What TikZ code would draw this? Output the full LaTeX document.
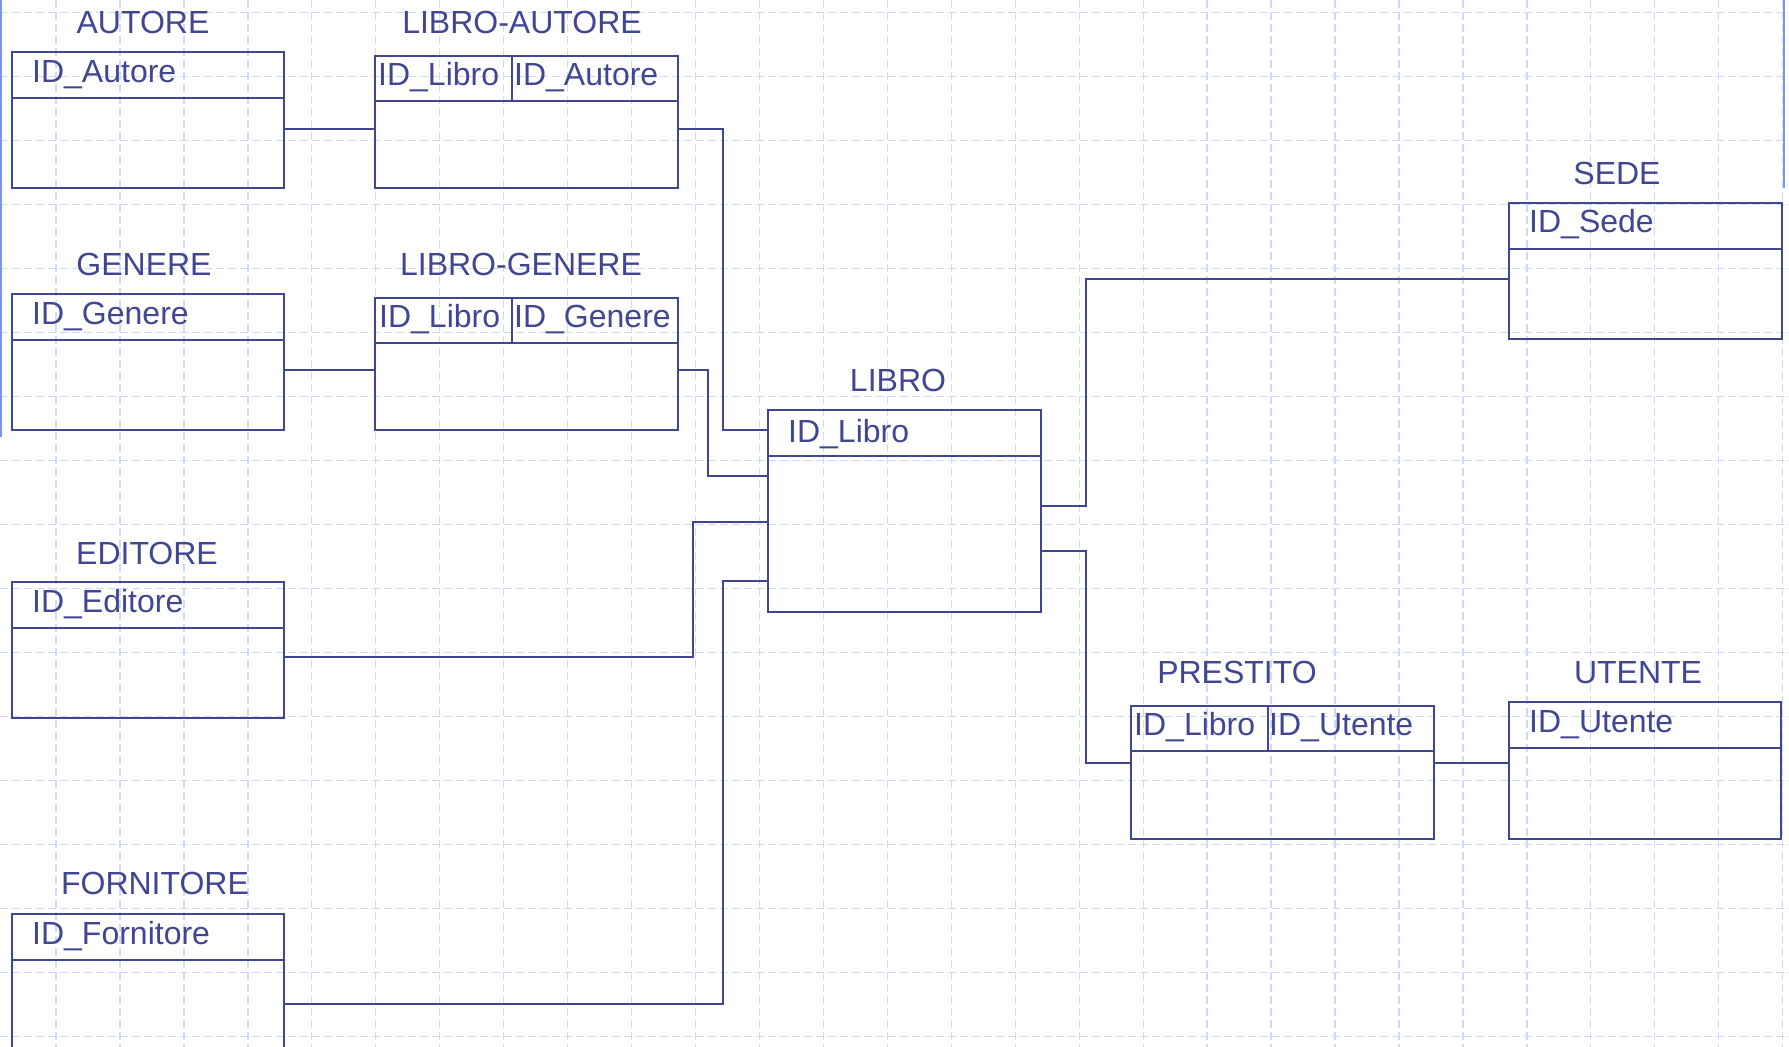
\documentclass[tikz,border=0pt]{standalone}
\usepackage{fontspec}
\setmainfont{Liberation Sans}
\usetikzlibrary{calc}
\definecolor{lc}{RGB}{64,70,145}
\definecolor{gc}{RGB}{208,219,251}
\definecolor{ec}{RGB}{120,148,240}
\begin{document}
\begin{tikzpicture}[x=1pt,y=-1pt,
  box/.style={draw=lc,line width=2pt,inner sep=0pt,outer sep=0pt},
  ttl/.style={text=lc,font=\fontsize{32}{36}\selectfont,inner sep=0pt,anchor=base},
  fld/.style={text=lc,font=\fontsize{32}{36}\selectfont,inner sep=0pt,anchor=base west},
  conn/.style={draw=lc,line width=2pt},
  gridline/.style={draw=gc,line width=1.3pt,dash pattern=on 8pt off 4pt},
  edgeline/.style={draw=ec,line width=2.5pt}]
\clip (0,0) rectangle (1789,1047);
\fill[white] (0,0) rectangle (1789,1047);
% grid
\foreach \k in {0,...,27} {\draw[gridline] ({56+63.95*\k},0) -- ({56+63.95*\k},1047);}
\foreach \k in {0,...,16} {\draw[gridline] (0,{12.7+64*\k}) -- (1789,{12.7+64*\k});}
\draw[edgeline] (1,0) -- (1,437);
\draw[edgeline] (1784,0) -- (1784,188);
% boxes
\node[box,minimum width=272pt,minimum height=136pt] (autore) at (148,120) {};
\node[box,minimum width=303pt,minimum height=132pt] (la) at (526.5,122) {};
\node[box,minimum width=272pt,minimum height=136pt] (genere) at (148,362) {};
\node[box,minimum width=303pt,minimum height=132pt] (lg) at (526.5,364) {};
\node[box,minimum width=272pt,minimum height=136pt] (editore) at (148,650) {};
\node[box,minimum width=272pt,minimum height=150pt] (fornitore) at (148,989) {};
\node[box,minimum width=273pt,minimum height=202pt] (libro) at (904.5,511) {};
\node[box,minimum width=273pt,minimum height=136pt] (sede) at (1645.5,271) {};
\node[box,minimum width=303pt,minimum height=133pt] (prestito) at (1282.5,772.5) {};
\node[box,minimum width=272pt,minimum height=137pt] (utente) at (1645,770.5) {};
% separators
\foreach \n in {autore,genere,editore,fornitore,sede,utente,libro}
  {\draw[conn] ($(\n.north west)+(0,46)$) -- ($(\n.north east)+(0,46)$);}
\foreach \n in {la,lg}
  {\draw[conn] ($(\n.north west)+(0,45)$) -- ($(\n.north east)+(0,45)$);
   \draw[conn] ($(\n.north west)+(137,0)$) -- ($(\n.north west)+(137,45)$);}
\draw[conn] ($(prestito.north west)+(0,45)$) -- ($(prestito.north east)+(0,45)$);
\draw[conn] ($(prestito.north west)+(137,0)$) -- ($(prestito.north west)+(137,45)$);
% titles
\node[ttl] (tautore) at (143,33) {AUTORE};
\node[ttl] (tla) at (522,33) {LIBRO-AUTORE};
\node[ttl] (tgenere) at (144,275) {GENERE};
\node[ttl] (tlg) at (521,275) {LIBRO-GENERE};
\node[ttl] (teditore) at (147,564) {EDITORE};
\node[ttl] (tfornitore) at (155,894) {FORNITORE};
\node[ttl] (tsede) at (1617,184) {SEDE};
\node[ttl] (tlibro) at (898,391) {LIBRO};
\node[ttl] (tprestito) at (1237,683) {PRESTITO};
\node[ttl] (tutente) at (1638,683) {UTENTE};
% fields
\node[fld] (f1) at (32,82) {ID\_Autore};
\node[fld] (f2) at (378,85) {ID\_Libro};
\node[fld] (f3) at (514,85) {ID\_Autore};
\node[fld] (f4) at (32,324) {ID\_Genere};
\node[fld] (f5) at (379,327) {ID\_Libro};
\node[fld] (f6) at (514,327) {ID\_Genere};
\node[fld] (f7) at (32,612) {ID\_Editore};
\node[fld] (f8) at (32,944) {ID\_Fornitore};
\node[fld] (f9) at (788,442) {ID\_Libro};
\node[fld] (f10) at (1529,232) {ID\_Sede};
\node[fld] (f11) at (1134,735) {ID\_Libro};
\node[fld] (f12) at (1269,735) {ID\_Utente};
\node[fld] (f13) at (1529,732) {ID\_Utente};
% connector levels
\coordinate (y1) at (0,129);
\coordinate (y2) at (0,430);
\coordinate (y3) at (0,370);
\coordinate (y4) at (0,476);
\coordinate (y5) at (0,657);
\coordinate (y6) at (0,522);
\coordinate (y7) at (0,1004);
\coordinate (y8) at (0,581);
\coordinate (y9) at (0,506);
\coordinate (y10) at (0,279);
\coordinate (y11) at (0,551);
\coordinate (y12) at (0,763);
% connectors
\draw[conn] (autore.east |- y1) -- (la.west |- y1);
\draw[conn] (la.east |- y1) -- ++(45,0) |- (libro.west |- y2);
\draw[conn] (genere.east |- y3) -- (lg.west |- y3);
\draw[conn] (lg.east |- y3) -- ++(30,0) |- (libro.west |- y4);
\draw[conn] (editore.east |- y5) -- ++(409,0) |- (libro.west |- y6);
\draw[conn] (fornitore.east |- y7) -- ++(439,0) |- (libro.west |- y8);
\draw[conn] (libro.east |- y9) -- ++(45,0) |- (sede.west |- y10);
\draw[conn] (libro.east |- y11) -- ++(45,0) |- (prestito.west |- y12);
\draw[conn] (prestito.east |- y12) -- (utente.west |- y12);
\end{tikzpicture}
\end{document}
